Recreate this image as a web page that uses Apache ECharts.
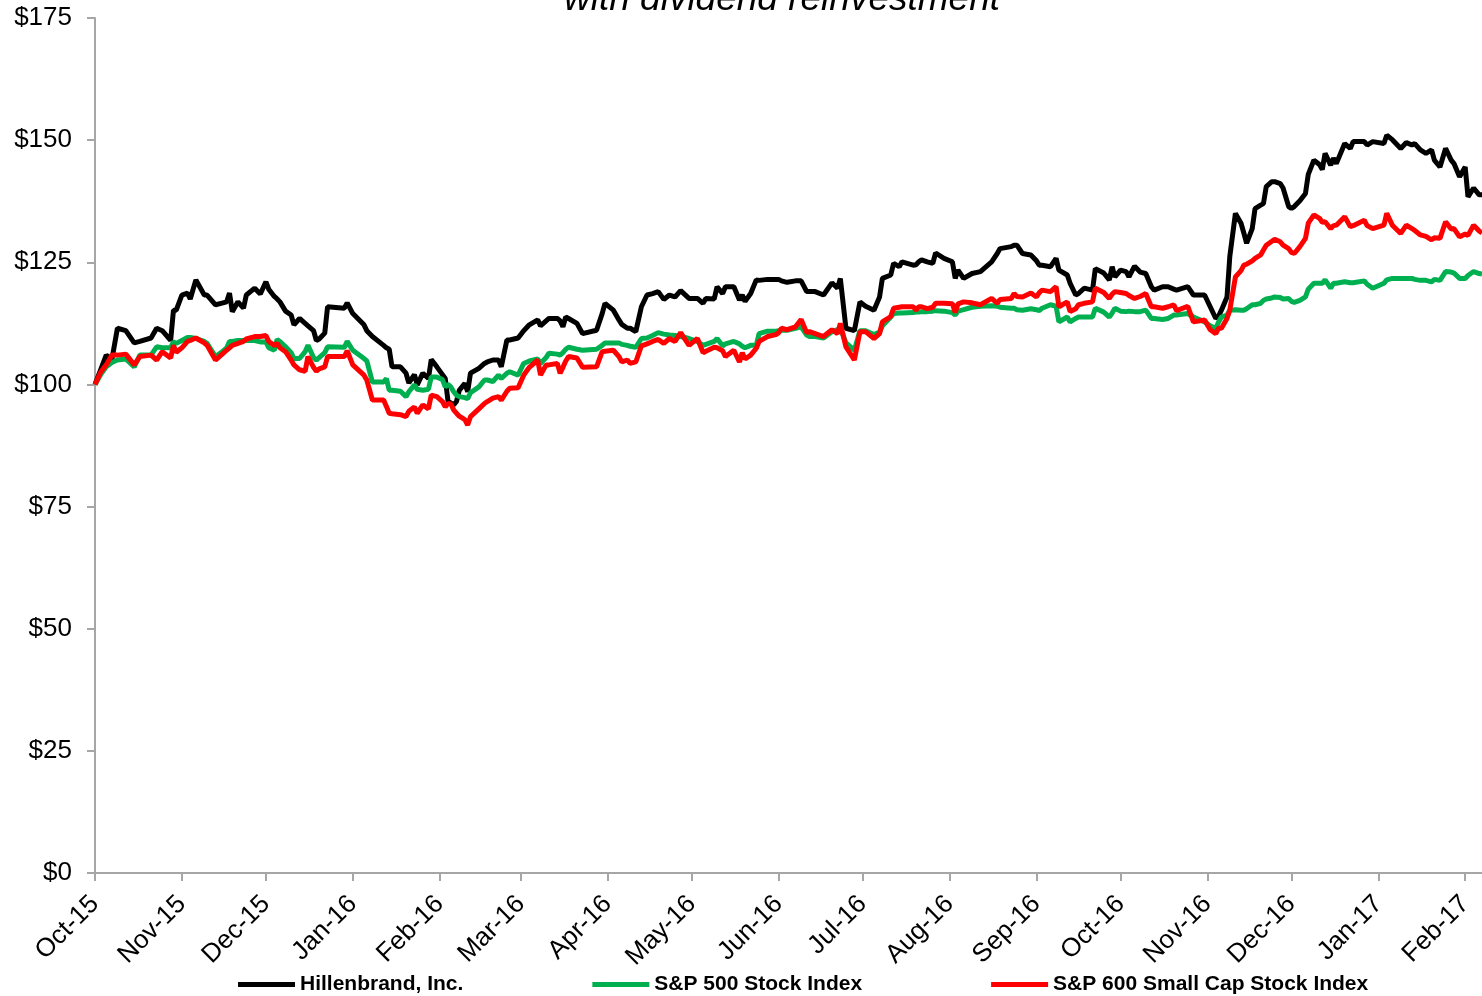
<!DOCTYPE html>
<html>
<head>
<meta charset="utf-8">
<title>Cumulative total return</title>
<script src="https://cdn.jsdelivr.net/npm/echarts@6/dist/echarts.min.js"></script>
<style>
  html, body { margin: 0; padding: 0; background: #fff; }
  #chart { width: 1482px; height: 996px; }
</style>
</head>
<body>
<div id="chart"></div>
<script>
// axis range (one category per calendar day)
var startDay = '2015-10-01';
var endDay = '2017-02-07';
var monthNames = ['Jan','Feb','Mar','Apr','May','Jun','Jul','Aug','Sep','Oct','Nov','Dec'];
var yMin = 0, yMax = 175, yStep = 25;

var seriesNames = ['Hillenbrand, Inc.', 'S&P 500 Stock Index', 'S&P 600 Small Cap Stock Index'];
var seriesColors = ['#000000', '#00b050', '#ff0000'];

// values
var dates = [
  '2015-10-01','2015-10-03','2015-10-05','2015-10-07','2015-10-09','2015-10-12','2015-10-15','2015-10-17','2015-10-21','2015-10-23','2015-10-25','2015-10-28','2015-10-29','2015-10-30',
  '2015-11-01','2015-11-03','2015-11-04','2015-11-06','2015-11-09','2015-11-10','2015-11-13','2015-11-15','2015-11-17','2015-11-18','2015-11-19','2015-11-21','2015-11-23','2015-11-24','2015-11-27','2015-11-29',
  '2015-12-01','2015-12-02','2015-12-04','2015-12-05','2015-12-06','2015-12-08','2015-12-10','2015-12-11','2015-12-13','2015-12-15','2015-12-16','2015-12-18','2015-12-19','2015-12-20','2015-12-22','2015-12-23','2015-12-29','2015-12-30',
  '2016-01-01','2016-01-05','2016-01-06','2016-01-08','2016-01-12','2016-01-13','2016-01-14','2016-01-15','2016-01-18','2016-01-20','2016-01-21','2016-01-23','2016-01-24','2016-01-26','2016-01-28','2016-01-29','2016-01-31',
  '2016-02-02','2016-02-03','2016-02-04','2016-02-05','2016-02-06','2016-02-07','2016-02-08','2016-02-10','2016-02-11','2016-02-12','2016-02-15','2016-02-17','2016-02-18','2016-02-20','2016-02-22','2016-02-23','2016-02-25','2016-02-26','2016-02-29',
  '2016-03-02','2016-03-04','2016-03-07','2016-03-08','2016-03-10','2016-03-11','2016-03-14','2016-03-15','2016-03-16','2016-03-17','2016-03-18','2016-03-21','2016-03-23','2016-03-28','2016-03-30','2016-03-31',
  '2016-04-03','2016-04-05','2016-04-06','2016-04-08','2016-04-09','2016-04-11','2016-04-13','2016-04-15','2016-04-17','2016-04-19','2016-04-21','2016-04-23','2016-04-25','2016-04-27','2016-04-30',
  '2016-05-03','2016-05-05','2016-05-06','2016-05-09','2016-05-10','2016-05-12','2016-05-13','2016-05-16','2016-05-18','2016-05-19','2016-05-20','2016-05-22','2016-05-24','2016-05-25','2016-05-28','2016-05-31',
  '2016-06-01','2016-06-02','2016-06-04','2016-06-07','2016-06-09','2016-06-11','2016-06-12','2016-06-14','2016-06-17','2016-06-20','2016-06-22','2016-06-23','2016-06-25','2016-06-28','2016-06-30',
  '2016-07-02','2016-07-05','2016-07-07','2016-07-08','2016-07-11','2016-07-12','2016-07-14','2016-07-15','2016-07-19','2016-07-20','2016-07-21','2016-07-22','2016-07-24','2016-07-26','2016-07-27','2016-07-30',
  '2016-08-02','2016-08-03','2016-08-04','2016-08-06','2016-08-09','2016-08-12','2016-08-16','2016-08-18','2016-08-19','2016-08-23','2016-08-24','2016-08-25','2016-08-27','2016-08-30',
  '2016-09-01','2016-09-02','2016-09-03','2016-09-06','2016-09-08','2016-09-09','2016-09-12','2016-09-13','2016-09-15','2016-09-16','2016-09-18','2016-09-21','2016-09-22','2016-09-25','2016-09-27','2016-09-28','2016-09-29',
  '2016-10-01','2016-10-03','2016-10-04','2016-10-06','2016-10-08','2016-10-10','2016-10-12','2016-10-13','2016-10-16','2016-10-18','2016-10-20','2016-10-21','2016-10-25','2016-10-27','2016-10-31',
  '2016-11-02','2016-11-04','2016-11-05','2016-11-06','2016-11-08','2016-11-09','2016-11-11','2016-11-13','2016-11-14','2016-11-15','2016-11-17','2016-11-18','2016-11-20','2016-11-21','2016-11-22','2016-11-24','2016-11-25','2016-11-27','2016-11-28','2016-11-30',
  '2016-12-01','2016-12-02','2016-12-04','2016-12-06','2016-12-07','2016-12-09','2016-12-11','2016-12-12','2016-12-13','2016-12-15','2016-12-16','2016-12-17','2016-12-20','2016-12-22','2016-12-23','2016-12-27','2016-12-28','2016-12-30',
  '2017-01-03','2017-01-04','2017-01-06','2017-01-09','2017-01-11','2017-01-13','2017-01-14','2017-01-16','2017-01-18','2017-01-20','2017-01-21','2017-01-23','2017-01-25','2017-01-27','2017-01-28','2017-01-30',
  '2017-02-01','2017-02-02','2017-02-04','2017-02-06','2017-02-07'
];

var hillenbrand = [
  100,103,106,105,111.5,111,108.5,108.8,109.5,111.5,111,109,115.2,115.2,
  118.3,118.7,117.5,121.4,118.3,118.3,116.3,116.6,116.9,118.7,114.9,116.9,115.6,118.3,119.7,118.5,
  121,119.5,118,117.5,116.9,115,114.2,112.2,113.5,112.5,112,111,109,109.3,110.5,115.9,115.6,116.7,
  114.5,112.2,111,109.8,108,107.5,107.2,103.6,103.6,102.3,100.3,102,99.9,102.3,101.2,105.1,103.6,
  102,101.2,96.5,96.2,95.8,96.5,98.8,100.2,98.5,102.3,103.3,104.3,104.6,105,105,103.6,109.1,109.1,109.5,
  111,112.2,113.2,112,113,113.5,113.5,113,111.8,113.8,113.5,112.5,110.4,111.1,114.5,116.6,
  115.2,113.2,112.3,111.5,111.5,110.8,115.9,118.3,118.6,119,117.4,118.3,117.9,119.2,117.6,
  117.6,116.6,117.6,117.5,120,118.6,120,120,117.3,118.3,117,118.6,121.4,121.3,121.5,121.5,
  121.5,121.2,120.9,121.2,121.2,119,119,119,118.3,120.8,119.7,121.7,111.5,111,116.9,
  116,115.2,117.9,121.7,122.4,124.8,124.1,125.1,124.4,124.5,125.1,125.5,125.1,124.8,126.9,125.8,
  125.1,121.7,123.4,121.7,122.7,123.1,125.1,126.8,127.8,128.2,128.5,128.5,126.8,126.5,
  125.3,124.4,124.4,124.1,125.8,123.4,122.4,120.7,118.3,118.6,119.7,119.3,123.7,122.8,121.4,124.1,122,
  123.4,123.1,122,124.2,123,122.7,120,119.3,120,120,119.5,119.3,120,118.3,118.3,
  115.9,113.5,114,115.2,117.9,126.2,135,133,131,128.9,131.9,136,136.7,137,140.5,141.5,141.5,141.1,140.2,136.4,
  136,136.4,137.6,139.1,143,145.9,145,144,147.3,144.9,146.3,145.2,149.3,148.3,149.7,149.7,149,149.7,
  149.3,151,150.1,148.3,149.5,149,149.3,148,147.3,148,145.9,144.5,148.3,145.9,145.2,142.5,
  144.5,138.4,140.2,138.8,138.8
];

var sp500 = [
  100,102,103.6,104.5,105,105.2,103.6,106,106,107.7,107.5,107.5,108.7,108.4,
  109,109.6,109.6,109.4,108.8,108.4,105.7,106.5,107.5,108.8,108.8,109,109,109,109,108.7,
  108.7,107.5,107,109.2,108.8,107.7,106.5,105.3,105.3,106.7,108,105.5,105,105.5,106.5,107.7,107.6,108.8,
  107,105.3,104.8,100.5,100.5,101.2,98.8,98.8,98.6,97.5,98.5,99.9,99,98.8,99,101.5,101.5,
  101,99.5,100,99.5,98.5,97.8,97.5,97.3,97.1,98.3,99.5,100.9,100.9,100.6,101.9,101.2,102.3,102.6,101.9,
  104.3,104.8,105.2,104.3,105.5,106.4,106.2,106,106.5,107.2,107.6,107.2,107,107.2,108,108.5,
  108.5,108.5,108.2,108,107.8,107.6,109.4,109.5,110,110.6,110.3,110.1,110,109.8,109.4,
  108.8,108,108.2,108.8,109.4,107.9,108.3,108.8,108.3,107.8,107.5,108,108,110.4,110.9,110.9,
  111,111.1,111.1,111.5,111.8,110.1,109.8,109.8,109.5,110.8,111.2,111.5,108.5,107,111,
  111,110.2,110.7,112,113.8,114.5,114.6,114.6,114.7,114.8,114.8,114.9,114.9,115,115.1,115,
  114.7,114.2,115,115.3,115.8,116,116.1,116,115.8,115.6,115.6,115.3,115.2,115.5,
  115.3,115.1,115.6,116.3,116,112.8,113.8,112.8,113.5,113.8,113.8,113.8,115.6,114.8,113.8,114.6,115.6,
  115,114.9,115,114.9,114.9,115.2,113.5,113.5,113.3,113.5,114.2,114.2,114.5,113.8,112.8,
  112,111.5,112.8,113.8,114.2,115.2,115.3,115.2,115.2,115.5,116.3,116.3,116.6,117.2,117.5,117.7,117.9,117.8,117.5,117.6,
  117,116.8,117.2,117.9,119.5,120.7,120.7,120.7,121.4,119.7,120.7,120.7,121,120.8,120.8,121.2,120.5,119.7,
  120.7,121.4,121.7,121.7,121.7,121.7,121.5,121.3,121.3,121,121.5,121.3,123.1,123,122.8,121.7,
  121.7,122.3,123.1,122.7,122.6
];

var sp600 = [
  100,102.5,104,106,106,106.2,104,105.7,106,105,106.7,105.4,108,106.6,
  107.5,108.8,109,109.5,108.5,108,105,106,107,107.5,108,108.4,108.8,109.3,109.8,109.8,
  110,108.8,108,108.4,107.5,106.7,105,104,103,102.7,105.7,103.5,102.7,103.2,103.6,105.7,105.7,106.9,
  104,101.9,100.9,96.8,96.8,95.5,94.1,94,93.8,93.4,94.5,95.4,94.1,95.8,95,97.8,97.5,
  96.5,95.4,96.1,96,94.8,94.1,93.5,92.8,91.7,93.4,95,96.1,96.5,97.2,97.5,96.8,98.6,99.2,99.3,
  101.9,103.5,105,101.9,104,104,104.3,102.3,103.5,104.8,105.7,105.4,103.5,103.6,106.7,106.8,
  107,105.7,104.6,105,104.3,104.6,107.9,108.3,108.8,109.2,108.4,109.4,108.8,110.6,108,
  109.4,106.5,106.8,107.6,107.5,106.9,105.7,107,104.6,106.5,105.2,106,107.4,108.8,109.8,110.2,
  110.6,111.5,111.2,111.8,113.3,110.6,110.8,110.4,109.8,111.2,110.4,112.5,107.7,105,110.8,
  110.8,109.4,110.4,112.8,113.9,115.6,115.8,115.9,115.9,115.2,115.9,115.9,115.5,115.8,116.6,116.6,
  116.5,114.7,116.5,116.9,116.7,116.3,117.6,116.6,117.4,117.6,118.6,118,117.9,118.7,
  117.9,118.8,119.3,119,120,115.9,116.9,114.9,115.5,116.3,116.6,116.9,119.7,118.8,117.6,118.5,119,
  118.8,118.6,118.2,117.6,118,118.6,115.9,115.9,115.6,115.9,116.3,115.1,116,112.8,113.2,
  111.2,110.4,111.5,111.5,113.5,115.2,122,123.3,124.4,124.6,125.3,125.8,126.5,127.5,128.5,129.3,129.7,129.2,128.5,127.8,
  127,126.8,128.2,129.9,133,134.7,134,133.2,133.3,131.9,132.5,132.6,134.3,132.3,132.5,133.6,132.5,131.9,
  132.6,135,132.6,130.9,132.6,131.9,131.5,130.6,130.3,129.6,130,129.9,133.3,131.8,131.9,130.2,
  130.8,130.5,132.6,131.4,131
];

var DAY = 86400000;
var t0 = Date.parse(startDay);
var t1 = Date.parse(endDay);

var days = [];
for (var t = t0; t <= t1; t += DAY) {
  days.push(new Date(t).toISOString().slice(0, 10));
}

function dayIndex(d) {
  return Math.round((Date.parse(d) - t0) / DAY);
}
function isMonthStart(index, value) {
  return value.slice(8, 10) === '01';
}
function monthLabel(value) {
  var d = new Date(value);
  return monthNames[d.getUTCMonth()] + '-' + String(d.getUTCFullYear()).slice(2);
}
function toPairs(values) {
  return dates.map(function (d, i) { return [dayIndex(d), values[i]]; });
}

var allValues = [hillenbrand, sp500, sp600];
var FONT = '"Liberation Sans", Arial, Helvetica, sans-serif';

var option = {
  animation: false,
  backgroundColor: '#ffffff',
  grid: { left: 95, right: 0, top: 18, bottom: 123, containLabel: false, outerBoundsMode: 'none' },
  graphic: [{
    type: 'text',
    x: 782,
    y: 0,
    silent: true,
    style: {
      text: 'with dividend reinvestment',
      font: 'italic 37px ' + FONT,
      fill: '#000',
      align: 'center',
      verticalAlign: 'middle'
    }
  }],
  legend: {
    data: seriesNames,
    left: 233,
    top: 969,
    icon: 'rect',
    itemWidth: 57,
    itemHeight: 5,
    itemGap: 129,
    textStyle: { fontFamily: FONT, fontSize: 21, fontWeight: 'bold', color: '#000' }
  },
  xAxis: {
    type: 'category',
    data: days,
    boundaryGap: false,
    axisLine: { show: true, lineStyle: { color: '#a6a6a6', width: 2 } },
    axisTick: { show: true, interval: isMonthStart, length: 8, lineStyle: { color: '#a6a6a6', width: 2 } },
    axisLabel: {
      interval: isMonthStart,
      rotate: 45,
      margin: 27,
      formatter: monthLabel,
      fontFamily: FONT,
      fontSize: 26,
      color: '#000'
    },
    splitLine: { show: false }
  },
  yAxis: {
    type: 'value',
    min: yMin,
    max: yMax,
    interval: yStep,
    axisLine: { show: true, lineStyle: { color: '#a6a6a6', width: 2 } },
    axisTick: { show: true, length: 8, lineStyle: { color: '#a6a6a6', width: 2 } },
    axisLabel: {
      margin: 23,
      formatter: function (v) { return '$' + v; },
      fontFamily: FONT,
      fontSize: 26,
      color: '#000'
    },
    splitLine: { show: false }
  },
  series: seriesNames.map(function (name, i) {
    return {
      name: name,
      type: 'line',
      data: toPairs(allValues[i]),
      showSymbol: false,
      symbol: 'none',
      color: seriesColors[i],
      lineStyle: { color: seriesColors[i], width: 5 },
      z: 2 + i
    };
  })
};

var chart = echarts.init(document.getElementById('chart'));
chart.setOption(option);
</script>
</body>
</html>
